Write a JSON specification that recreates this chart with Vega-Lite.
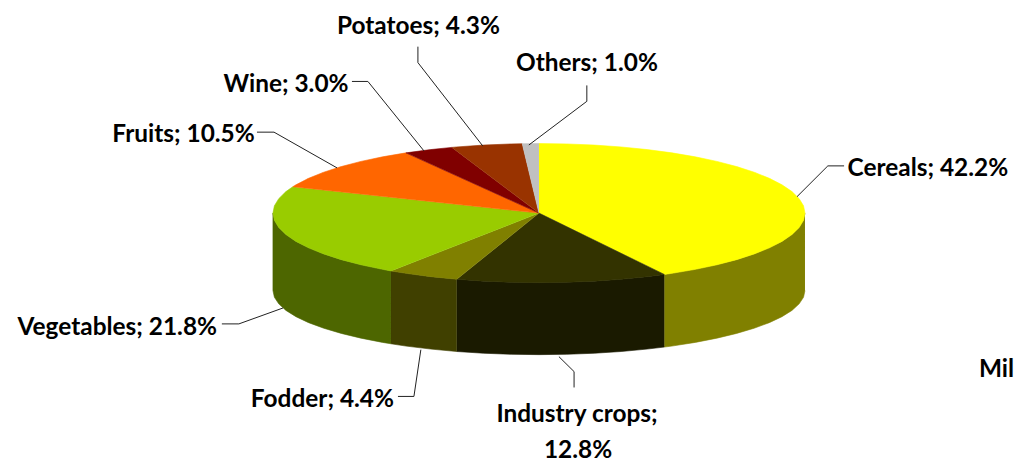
{
"$schema":"https://vega.github.io/schema/vega-lite/v6.json",
"width":1017,"height":463,"padding":0,
"autosize":{"type":"fit","contains":"padding"},
"background":"white",
"config":{"view":{"stroke":null}},
"datasets":{
"top":[
{"s":"Cereals","o":0,"x":0,"y":0},{"s":"Cereals","o":1,"x":0,"y":1},{"s":"Cereals","o":2,"x":0.1045,"y":0.9945},{"s":"Cereals","o":3,"x":0.2079,"y":0.9781},{"s":"Cereals","o":4,"x":0.309,"y":0.9511},{"s":"Cereals","o":5,"x":0.4067,"y":0.9135},{"s":"Cereals","o":6,"x":0.5,"y":0.866},{"s":"Cereals","o":7,"x":0.5878,"y":0.809},{"s":"Cereals","o":8,"x":0.6691,"y":0.7431},{"s":"Cereals","o":9,"x":0.7431,"y":0.6691},{"s":"Cereals","o":10,"x":0.809,"y":0.5878},{"s":"Cereals","o":11,"x":0.866,"y":0.5},{"s":"Cereals","o":12,"x":0.9135,"y":0.4067},{"s":"Cereals","o":13,"x":0.9511,"y":0.309},{"s":"Cereals","o":14,"x":0.9781,"y":0.2079},{"s":"Cereals","o":15,"x":0.9945,"y":0.1045},{"s":"Cereals","o":16,"x":1,"y":0},{"s":"Cereals","o":17,"x":0.9945,"y":-0.1045},{"s":"Cereals","o":18,"x":0.9781,"y":-0.2079},{"s":"Cereals","o":19,"x":0.9511,"y":-0.309},{"s":"Cereals","o":20,"x":0.9135,"y":-0.4067},{"s":"Cereals","o":21,"x":0.866,"y":-0.5},{"s":"Cereals","o":22,"x":0.809,"y":-0.5878},{"s":"Cereals","o":23,"x":0.7431,"y":-0.6691},{"s":"Cereals","o":24,"x":0.6691,"y":-0.7431},{"s":"Cereals","o":25,"x":0.5878,"y":-0.809},{"s":"Cereals","o":26,"x":0.5,"y":-0.866},{"s":"Cereals","o":27,"x":0.4712,"y":-0.882},
{"s":"Industry crops","o":0,"x":0,"y":0},{"s":"Industry crops","o":1,"x":0.4712,"y":-0.882},{"s":"Industry crops","o":2,"x":0.4067,"y":-0.9135},{"s":"Industry crops","o":3,"x":0.309,"y":-0.9511},{"s":"Industry crops","o":4,"x":0.2079,"y":-0.9781},{"s":"Industry crops","o":5,"x":0.1045,"y":-0.9945},{"s":"Industry crops","o":6,"x":0,"y":-1},{"s":"Industry crops","o":7,"x":-0.1045,"y":-0.9945},{"s":"Industry crops","o":8,"x":-0.2079,"y":-0.9781},{"s":"Industry crops","o":9,"x":-0.309,"y":-0.9511},
{"s":"Fodder","o":0,"x":0,"y":0},{"s":"Fodder","o":1,"x":-0.309,"y":-0.9511},{"s":"Fodder","o":2,"x":-0.4067,"y":-0.9135},{"s":"Fodder","o":3,"x":-0.5,"y":-0.866},{"s":"Fodder","o":4,"x":-0.5563,"y":-0.831},
{"s":"Vegetables","o":0,"x":0,"y":0},{"s":"Vegetables","o":1,"x":-0.5563,"y":-0.831},{"s":"Vegetables","o":2,"x":-0.5878,"y":-0.809},{"s":"Vegetables","o":3,"x":-0.6691,"y":-0.7431},{"s":"Vegetables","o":4,"x":-0.7431,"y":-0.6691},{"s":"Vegetables","o":5,"x":-0.809,"y":-0.5878},{"s":"Vegetables","o":6,"x":-0.866,"y":-0.5},{"s":"Vegetables","o":7,"x":-0.9135,"y":-0.4067},{"s":"Vegetables","o":8,"x":-0.9511,"y":-0.309},{"s":"Vegetables","o":9,"x":-0.9781,"y":-0.2079},{"s":"Vegetables","o":10,"x":-0.9945,"y":-0.1045},{"s":"Vegetables","o":11,"x":-1,"y":0},{"s":"Vegetables","o":12,"x":-0.9945,"y":0.1045},{"s":"Vegetables","o":13,"x":-0.9781,"y":0.2079},{"s":"Vegetables","o":14,"x":-0.9511,"y":0.309},{"s":"Vegetables","o":15,"x":-0.9252,"y":0.3795},
{"s":"Fruits","o":0,"x":0,"y":0},{"s":"Fruits","o":1,"x":-0.9252,"y":0.3795},{"s":"Fruits","o":2,"x":-0.9135,"y":0.4067},{"s":"Fruits","o":3,"x":-0.866,"y":0.5},{"s":"Fruits","o":4,"x":-0.809,"y":0.5878},{"s":"Fruits","o":5,"x":-0.7431,"y":0.6691},{"s":"Fruits","o":6,"x":-0.6691,"y":0.7431},{"s":"Fruits","o":7,"x":-0.5878,"y":0.809},{"s":"Fruits","o":8,"x":-0.5,"y":0.866},
{"s":"Wine","o":0,"x":0,"y":0},{"s":"Wine","o":1,"x":-0.5,"y":0.866},{"s":"Wine","o":2,"x":-0.4067,"y":0.9135},{"s":"Wine","o":3,"x":-0.3272,"y":0.9449},
{"s":"Potatoes","o":0,"x":0,"y":0},{"s":"Potatoes","o":1,"x":-0.3272,"y":0.9449},{"s":"Potatoes","o":2,"x":-0.309,"y":0.9511},{"s":"Potatoes","o":3,"x":-0.2079,"y":0.9781},{"s":"Potatoes","o":4,"x":-0.1045,"y":0.9945},{"s":"Potatoes","o":5,"x":-0.0628,"y":0.998},
{"s":"Others","o":0,"x":0,"y":0},{"s":"Others","o":1,"x":-0.0628,"y":0.998},{"s":"Others","o":2,"x":0,"y":1}
],
"side":[
{"s":"Cereals side","o":0,"x":1,"y":0},{"s":"Cereals side","o":1,"x":0.9945,"y":-0.1045},{"s":"Cereals side","o":2,"x":0.9781,"y":-0.2079},{"s":"Cereals side","o":3,"x":0.9511,"y":-0.309},{"s":"Cereals side","o":4,"x":0.9135,"y":-0.4067},{"s":"Cereals side","o":5,"x":0.866,"y":-0.5},{"s":"Cereals side","o":6,"x":0.809,"y":-0.5878},{"s":"Cereals side","o":7,"x":0.7431,"y":-0.6691},{"s":"Cereals side","o":8,"x":0.6691,"y":-0.7431},{"s":"Cereals side","o":9,"x":0.5878,"y":-0.809},{"s":"Cereals side","o":10,"x":0.5,"y":-0.866},{"s":"Cereals side","o":11,"x":0.4712,"y":-0.882},
{"s":"Cereals side","o":12,"x":0.4712,"y":-1.926},{"s":"Cereals side","o":13,"x":0.5,"y":-1.912},{"s":"Cereals side","o":14,"x":0.5878,"y":-1.859},{"s":"Cereals side","o":15,"x":0.6691,"y":-1.798},{"s":"Cereals side","o":16,"x":0.7431,"y":-1.73},{"s":"Cereals side","o":17,"x":0.809,"y":-1.655},{"s":"Cereals side","o":18,"x":0.866,"y":-1.575},{"s":"Cereals side","o":19,"x":0.9135,"y":-1.489},{"s":"Cereals side","o":20,"x":0.9511,"y":-1.399},{"s":"Cereals side","o":21,"x":0.9781,"y":-1.305},{"s":"Cereals side","o":22,"x":0.9945,"y":-1.21},{"s":"Cereals side","o":23,"x":1,"y":-1.114},
{"s":"Industry crops side","o":0,"x":0.4712,"y":-0.882},{"s":"Industry crops side","o":1,"x":0.4067,"y":-0.9135},{"s":"Industry crops side","o":2,"x":0.309,"y":-0.9511},{"s":"Industry crops side","o":3,"x":0.2079,"y":-0.9781},{"s":"Industry crops side","o":4,"x":0.1045,"y":-0.9945},{"s":"Industry crops side","o":5,"x":0,"y":-1},{"s":"Industry crops side","o":6,"x":-0.1045,"y":-0.9945},{"s":"Industry crops side","o":7,"x":-0.2079,"y":-0.9781},{"s":"Industry crops side","o":8,"x":-0.309,"y":-0.9511},
{"s":"Industry crops side","o":9,"x":-0.309,"y":-1.99},{"s":"Industry crops side","o":10,"x":-0.2079,"y":-2.015},{"s":"Industry crops side","o":11,"x":-0.1045,"y":-2.03},{"s":"Industry crops side","o":12,"x":0,"y":-2.035},{"s":"Industry crops side","o":13,"x":0.1045,"y":-2.03},{"s":"Industry crops side","o":14,"x":0.2079,"y":-2.015},{"s":"Industry crops side","o":15,"x":0.309,"y":-1.99},{"s":"Industry crops side","o":16,"x":0.4067,"y":-1.955},{"s":"Industry crops side","o":17,"x":0.4712,"y":-1.926},
{"s":"Fodder side","o":0,"x":-0.309,"y":-0.9511},{"s":"Fodder side","o":1,"x":-0.4067,"y":-0.9135},{"s":"Fodder side","o":2,"x":-0.5,"y":-0.866},{"s":"Fodder side","o":3,"x":-0.5563,"y":-0.831},{"s":"Fodder side","o":4,"x":-0.5563,"y":-1.879},{"s":"Fodder side","o":5,"x":-0.5,"y":-1.912},{"s":"Fodder side","o":6,"x":-0.4067,"y":-1.955},{"s":"Fodder side","o":7,"x":-0.309,"y":-1.99},
{"s":"Vegetables side","o":0,"x":-0.5563,"y":-0.831},{"s":"Vegetables side","o":1,"x":-0.5878,"y":-0.809},{"s":"Vegetables side","o":2,"x":-0.6691,"y":-0.7431},{"s":"Vegetables side","o":3,"x":-0.7431,"y":-0.6691},{"s":"Vegetables side","o":4,"x":-0.809,"y":-0.5878},{"s":"Vegetables side","o":5,"x":-0.866,"y":-0.5},{"s":"Vegetables side","o":6,"x":-0.9135,"y":-0.4067},{"s":"Vegetables side","o":7,"x":-0.9511,"y":-0.309},{"s":"Vegetables side","o":8,"x":-0.9781,"y":-0.2079},{"s":"Vegetables side","o":9,"x":-0.9945,"y":-0.1045},{"s":"Vegetables side","o":10,"x":-1,"y":0},
{"s":"Vegetables side","o":11,"x":-1,"y":-1.114},{"s":"Vegetables side","o":12,"x":-0.9945,"y":-1.21},{"s":"Vegetables side","o":13,"x":-0.9781,"y":-1.305},{"s":"Vegetables side","o":14,"x":-0.9511,"y":-1.399},{"s":"Vegetables side","o":15,"x":-0.9135,"y":-1.489},{"s":"Vegetables side","o":16,"x":-0.866,"y":-1.575},{"s":"Vegetables side","o":17,"x":-0.809,"y":-1.655},{"s":"Vegetables side","o":18,"x":-0.7431,"y":-1.73},{"s":"Vegetables side","o":19,"x":-0.6691,"y":-1.798},{"s":"Vegetables side","o":20,"x":-0.5878,"y":-1.859},{"s":"Vegetables side","o":21,"x":-0.5563,"y":-1.879}
],
"leaders":[
{"s":"Cereals","o":0,"x":0.97,"y":0.236},{"s":"Cereals","o":1,"x":1.086,"y":0.679},{"s":"Cereals","o":2,"x":1.147,"y":0.679},
{"s":"Others","o":0,"x":-0.038,"y":0.979},{"s":"Others","o":1,"x":0.18,"y":1.607},{"s":"Others","o":2,"x":0.18,"y":1.836},
{"s":"Potatoes","o":0,"x":-0.211,"y":0.964},{"s":"Potatoes","o":1,"x":-0.455,"y":2.164},{"s":"Potatoes","o":2,"x":-0.455,"y":2.393},
{"s":"Wine","o":0,"x":-0.432,"y":0.893},{"s":"Wine","o":1,"x":-0.643,"y":1.893},{"s":"Wine","o":2,"x":-0.703,"y":1.893},
{"s":"Fruits","o":0,"x":-0.759,"y":0.65},{"s":"Fruits","o":1,"x":-0.996,"y":1.164},{"s":"Fruits","o":2,"x":-1.06,"y":1.164},
{"s":"Vegetables","o":0,"x":-0.962,"y":-1.364},{"s":"Vegetables","o":1,"x":-1.128,"y":-1.593},{"s":"Vegetables","o":2,"x":-1.192,"y":-1.593},
{"s":"Fodder","o":0,"x":-0.444,"y":-1.964},{"s":"Fodder","o":1,"x":-0.47,"y":-2.636},{"s":"Fodder","o":2,"x":-0.53,"y":-2.636},
{"s":"Industry crops","o":0,"x":0.075,"y":-2.064},{"s":"Industry crops","o":1,"x":0.132,"y":-2.279},{"s":"Industry crops","o":2,"x":0.132,"y":-2.507}
],
"labels":[
{"t":"Potatoes; 4.3%","x":-0.453,"y":2.693},
{"t":"Others; 1.0%","x":0.1805,"y":2.164},
{"t":"Cereals; 42.2%","x":1.462,"y":0.65},
{"t":"Wine; 3.0%","x":-0.951,"y":1.85},
{"t":"Fruits; 10.5%","x":-1.336,"y":1.136},
{"t":"Vegetables; 21.8%","x":-1.585,"y":-1.636},
{"t":"Fodder; 4.4%","x":-0.814,"y":-2.679},
{"t":"Industry crops;","x":0.143,"y":-2.893},
{"t":"12.8%","x":0.147,"y":-3.407},
{"t":"Mil","x":1.72,"y":-2.236}
]
},
"encoding":{
"x":{"field":"x","type":"quantitative","axis":null,"scale":{"domain":[-2.026,1.797],"nice":false,"zero":false}},
"y":{"field":"y","type":"quantitative","axis":null,"scale":{"domain":[-3.55,3.064],"nice":false,"zero":false}}
},
"layer":[
{"data":{"name":"side"},"mark":{"type":"line","filled":true,"strokeWidth":0.6},
"encoding":{"order":{"field":"o","type":"quantitative"},
"fill":{"field":"s","type":"nominal","legend":null,"scale":{"domain":["Cereals","Industry crops","Fodder","Vegetables","Fruits","Wine","Potatoes","Others","Cereals side","Industry crops side","Fodder side","Vegetables side"],"range":["#FFFF00","#333300","#808000","#99CC00","#FF6600","#800000","#993300","#C0C0C0","#808000","#1A1A00","#404000","#4D6600"]}},
"stroke":{"field":"s","type":"nominal","legend":null,"scale":{"domain":["Cereals","Industry crops","Fodder","Vegetables","Fruits","Wine","Potatoes","Others","Cereals side","Industry crops side","Fodder side","Vegetables side"],"range":["#FFFF00","#333300","#808000","#99CC00","#FF6600","#800000","#993300","#C0C0C0","#808000","#1A1A00","#404000","#4D6600"]}}}},
{"data":{"name":"top"},"mark":{"type":"line","filled":true,"strokeWidth":0.6},
"encoding":{"order":{"field":"o","type":"quantitative"},
"fill":{"field":"s","type":"nominal","legend":null,"scale":{"domain":["Cereals","Industry crops","Fodder","Vegetables","Fruits","Wine","Potatoes","Others","Cereals side","Industry crops side","Fodder side","Vegetables side"],"range":["#FFFF00","#333300","#808000","#99CC00","#FF6600","#800000","#993300","#C0C0C0","#808000","#1A1A00","#404000","#4D6600"]}},
"stroke":{"field":"s","type":"nominal","legend":null,"scale":{"domain":["Cereals","Industry crops","Fodder","Vegetables","Fruits","Wine","Potatoes","Others","Cereals side","Industry crops side","Fodder side","Vegetables side"],"range":["#FFFF00","#333300","#808000","#99CC00","#FF6600","#800000","#993300","#C0C0C0","#808000","#1A1A00","#404000","#4D6600"]}}}},
{"data":{"name":"leaders"},"mark":{"type":"line","color":"#222222","strokeWidth":1},
"encoding":{"order":{"field":"o","type":"quantitative"},"detail":{"field":"s","type":"nominal"}}},
{"data":{"name":"labels"},"mark":{"type":"text","font":"Lato","fontWeight":"bold","fontSize":24.4,"color":"#000000","align":"center","baseline":"middle","dy":1},
"encoding":{"text":{"field":"t","type":"nominal"}}}
]
}
